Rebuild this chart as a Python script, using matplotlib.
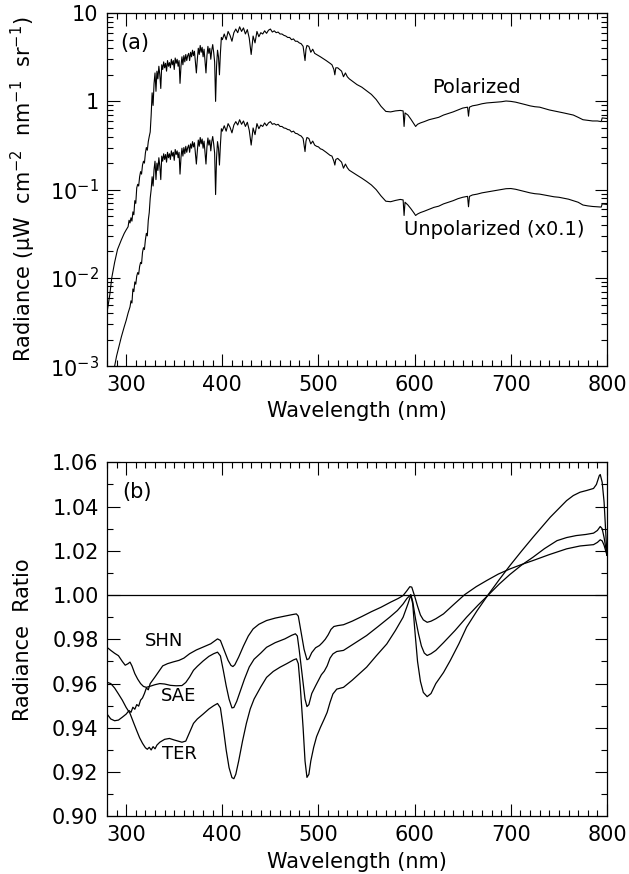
import matplotlib
matplotlib.use('Agg')
import matplotlib.pyplot as plt
import numpy as np
from matplotlib.ticker import FixedLocator, FixedFormatter, MultipleLocator, LogLocator, NullFormatter

# ---- panel (a): radiance spectra ----
wl_pol = [280, 283, 285, 288, 291, 295, 298, 300, 302, 303, 304, 305, 306, 307, 308, 309, 310,
          311, 312, 313, 314, 315, 316, 317, 318, 319, 320, 321, 322, 323, 324, 325, 326, 327,
          328, 329, 330, 331, 332, 333, 334, 335, 336, 337, 338, 339, 340, 341, 342, 343, 344,
          345, 346, 347, 348, 349, 350, 351, 352, 353, 354, 355, 356, 357, 358, 359, 360, 361,
          362, 363, 364, 365, 366, 367, 368, 369, 370, 371, 372, 373, 374, 375, 376, 377, 378,
          379, 380, 381, 382, 383, 384, 385, 386, 387, 388, 389, 390, 391, 392, 393, 394, 395,
          396, 397, 398, 399, 400, 402, 404, 406, 408, 410, 412, 414, 416, 418, 420, 422, 424,
          426, 428, 430, 432, 434, 436, 438, 440, 442, 444, 446, 448, 450, 452, 454, 456, 458,
          460, 462, 464, 466, 468, 470, 472, 474, 476, 478, 480, 482, 484, 486, 487, 488, 490,
          492, 494, 496, 498, 500, 502, 504, 506, 508, 510, 512, 514, 516, 517, 518, 520, 522,
          524, 526, 528, 530, 532, 535, 540, 545, 550, 555, 560, 565, 570, 575, 580, 585, 588,
          589, 590, 593, 596, 599, 601, 603, 606, 610, 615, 620, 625, 630, 635, 640, 645, 650,
          655, 656, 657, 660, 665, 670, 675, 680, 685, 690, 695, 700, 705, 710, 715, 720, 725,
          730, 735, 740, 745, 750, 755, 760, 765, 770, 775, 780, 785, 790, 794, 795, 800]
rad_pol = [0.0040, 0.0065, 0.0100, 0.0150, 0.0210, 0.0270, 0.0320, 0.0350, 0.0380, 0.0450,
           0.0420, 0.0480, 0.0440, 0.0560, 0.0520, 0.0750, 0.0700, 0.1050, 0.1150, 0.1100,
           0.1400, 0.1600, 0.1500, 0.1900, 0.2100, 0.2000, 0.2600, 0.3000, 0.2800, 0.3500,
           0.4000, 0.4500, 0.7000, 1.2500, 0.9000, 1.6000, 2.1000, 1.3000, 2.2000, 1.8000,
           2.5000, 2.0000, 1.4000, 2.6000, 2.3000, 2.8000, 2.4000, 2.7000, 2.2000, 2.9000,
           2.5000, 2.7500, 2.4000, 3.0000, 2.6000, 2.9000, 2.3000, 3.1000, 2.7000, 3.0000,
           2.5000, 2.9000, 1.6000, 2.5000, 3.2000, 2.6000, 3.3000, 2.8000, 3.4000, 2.9000,
           3.3000, 3.5000, 2.9000, 3.6000, 3.2000, 3.8000, 3.3000, 3.7000, 2.8000, 2.1000,
           3.0000, 4.0000, 3.4000, 4.3000, 3.6000, 4.1000, 3.2000, 3.9000, 2.9000, 2.1000,
           3.3000, 4.2000, 3.5000, 4.0000, 3.0000, 3.8000, 4.4000, 3.6000, 2.8000, 1.0000,
           2.5000, 3.8000, 3.2000, 2.0000, 3.5000, 5.3000, 5.0000, 5.8000, 5.0000, 6.2000,
           5.6000, 4.8000, 6.0000, 6.6000, 6.0000, 7.0000, 6.2000, 6.8000, 5.8000, 6.5000,
           5.2000, 3.4000, 5.5000, 4.6000, 6.2000, 5.4000, 6.0000, 5.8000, 6.3000, 5.9000,
           6.4000, 6.6000, 6.1000, 6.3000, 6.0000, 6.1000, 5.8000, 5.8000, 5.6000, 5.5000,
           5.3000, 5.3000, 5.0000, 5.1000, 4.8000, 4.8000, 4.6000, 4.5000, 4.2000, 2.9000,
           3.9000, 4.3000, 4.2000, 3.6000, 3.9000, 3.5000, 3.4000, 3.3000, 3.2000, 3.1000,
           3.0000, 2.9000, 2.8000, 2.7000, 2.6000, 2.3000, 2.0000, 2.4000, 2.4000, 2.3000,
           2.2000, 1.9000, 2.1000, 1.9000, 1.8000, 1.7000, 1.5500, 1.4500, 1.3200, 1.2000,
           1.0500, 0.8800, 0.7700, 0.7600, 0.7800, 0.7900, 0.7800, 0.5200, 0.7400, 0.7000,
           0.6300, 0.5600, 0.5200, 0.5500, 0.5700, 0.5900, 0.6200, 0.6400, 0.6600, 0.7000,
           0.7300, 0.7600, 0.8000, 0.8400, 0.8600, 0.6800, 0.8600, 0.8900, 0.9100, 0.9400,
           0.9600, 0.9700, 0.9800, 0.9900, 1.0100, 1.0000, 0.9800, 0.9500, 0.9200, 0.8900,
           0.8700, 0.8600, 0.8300, 0.8000, 0.7800, 0.7600, 0.7400, 0.7200, 0.7000, 0.6600,
           0.6200, 0.6100, 0.6000, 0.6000, 0.5900, 0.6500, 0.6400]

wl_unp = [288, 290, 293, 295, 298, 300, 302, 304, 305, 306, 307, 308, 309, 310, 311, 312, 313,
          314, 315, 316, 317, 318, 319, 320, 321, 322, 323, 324, 325, 326, 327, 328, 329, 330,
          331, 332, 333, 334, 335, 336, 337, 338, 339, 340, 341, 342, 343, 344, 345, 346, 347,
          348, 349, 350, 351, 352, 353, 354, 355, 356, 357, 358, 359, 360, 361, 362, 363, 364,
          365, 366, 367, 368, 369, 370, 371, 372, 373, 374, 375, 376, 377, 378, 379, 380, 381,
          382, 383, 384, 385, 386, 387, 388, 389, 390, 391, 392, 393, 394, 395, 396, 397, 398,
          399, 400, 402, 404, 406, 408, 410, 412, 414, 416, 418, 420, 422, 424, 426, 428, 430,
          432, 434, 436, 438, 440, 442, 444, 446, 448, 450, 452, 454, 456, 458, 460, 462, 464,
          466, 468, 470, 472, 474, 476, 478, 480, 482, 484, 486, 487, 488, 490, 492, 494, 496,
          498, 500, 502, 504, 506, 508, 510, 512, 514, 516, 517, 518, 520, 522, 524, 526, 528,
          530, 532, 535, 540, 545, 550, 555, 560, 565, 570, 575, 580, 585, 588, 589, 590, 593,
          596, 599, 601, 603, 606, 610, 615, 620, 625, 630, 635, 640, 645, 650, 655, 656, 657,
          660, 665, 670, 675, 680, 685, 690, 695, 700, 705, 710, 715, 720, 725, 730, 735, 740,
          745, 750, 755, 760, 765, 770, 775, 780, 785, 790, 794, 795, 800]
rad_unp = [0.00100, 0.00130, 0.00175, 0.00215, 0.00280, 0.00330, 0.00400, 0.00470, 0.00550,
           0.00520, 0.00750, 0.00700, 0.00900, 0.00850, 0.01050, 0.01150, 0.01100, 0.01350,
           0.01500, 0.01450, 0.01950, 0.02200, 0.02100, 0.02700, 0.03200, 0.03000, 0.04500,
           0.05500, 0.08000, 0.10000, 0.14000, 0.11000, 0.17000, 0.21000, 0.13000, 0.20000,
           0.16500, 0.23000, 0.18500, 0.13000, 0.24000, 0.21000, 0.25500, 0.22000, 0.25000,
           0.20500, 0.26500, 0.23000, 0.25500, 0.22000, 0.27500, 0.24000, 0.26500, 0.21500,
           0.28500, 0.25000, 0.27500, 0.23000, 0.26500, 0.15000, 0.23000, 0.29500, 0.24000,
           0.30000, 0.25500, 0.31000, 0.26500, 0.30000, 0.32000, 0.26500, 0.33000, 0.29500,
           0.35000, 0.30500, 0.34000, 0.26000, 0.19500, 0.27500, 0.36500, 0.31000, 0.39000,
           0.33000, 0.37500, 0.29500, 0.35500, 0.26500, 0.19500, 0.30500, 0.38500, 0.32000,
           0.36500, 0.27500, 0.35000, 0.40000, 0.33000, 0.26000, 0.08800, 0.23000, 0.35000,
           0.29500, 0.19000, 0.32000, 0.49000, 0.46000, 0.53000, 0.46000, 0.56000, 0.51000,
           0.44000, 0.54000, 0.59000, 0.54000, 0.62000, 0.55000, 0.60000, 0.52000, 0.58000,
           0.47000, 0.32000, 0.50000, 0.42000, 0.56000, 0.49000, 0.54000, 0.52000, 0.57000,
           0.53000, 0.57000, 0.59000, 0.55000, 0.56000, 0.54000, 0.55000, 0.52000, 0.52000,
           0.50000, 0.49500, 0.48000, 0.47500, 0.45000, 0.46000, 0.43500, 0.43000, 0.41500,
           0.40500, 0.38000, 0.27000, 0.35500, 0.39000, 0.38000, 0.33000, 0.35500, 0.32000,
           0.31000, 0.30500, 0.29000, 0.28500, 0.27500, 0.26500, 0.25500, 0.24500, 0.24000,
           0.21000, 0.19000, 0.22000, 0.22600, 0.21500, 0.20500, 0.17500, 0.19500, 0.17700,
           0.16600, 0.15800, 0.14600, 0.13500, 0.12400, 0.11300, 0.10000, 0.08500, 0.07400,
           0.07300, 0.07550, 0.07750, 0.07650, 0.05100, 0.07200, 0.06700, 0.06100, 0.05500,
           0.05100, 0.05300, 0.05500, 0.05700, 0.06000, 0.06300, 0.06500, 0.06900, 0.07200,
           0.07500, 0.07900, 0.08200, 0.08400, 0.06400, 0.08400, 0.08700, 0.08900, 0.09200,
           0.09400, 0.09600, 0.09800, 0.10000, 0.10250, 0.10300, 0.10100, 0.09800, 0.09500,
           0.09200, 0.09000, 0.08900, 0.08700, 0.08500, 0.08300, 0.08200, 0.08000, 0.07800,
           0.07500, 0.07200, 0.06700, 0.06550, 0.06450, 0.06400, 0.06350, 0.06900, 0.06800]

# ---- panel (b): radiance ratios ----
wl_shn = [280, 284, 288, 292, 296, 300, 303, 305, 307, 309, 311, 313, 315, 317, 319, 321, 323,
          325, 327, 330, 334, 338, 343, 349, 355, 360, 366, 373, 380, 388, 395, 398, 402, 406,
          409, 411, 413, 417, 422, 427, 432, 438, 446, 455, 465, 473, 477, 479, 482, 485, 488,
          490, 493, 497, 501, 504, 507, 510, 513, 516, 520, 526, 535, 545, 555, 565, 575, 583,
          588, 592, 595, 597, 600, 603, 606, 609, 613, 617, 622, 630, 640, 652, 664, 675, 687,
          699, 711, 723, 740, 758, 772, 786, 790, 793, 795, 797, 800]
ratio_shn = [0.9463, 0.9440, 0.9432, 0.9435, 0.9448, 0.9462, 0.9478, 0.9470, 0.9493, 0.9484,
             0.9505, 0.9498, 0.9525, 0.9535, 0.9555, 0.9580, 0.9572, 0.9600, 0.9612, 0.9630,
             0.9655, 0.9680, 0.9690, 0.9698, 0.9705, 0.9715, 0.9735, 0.9752, 0.9765, 0.9780,
             0.9802, 0.9795, 0.9750, 0.9705, 0.9682, 0.9677, 0.9685, 0.9720, 0.9770, 0.9815,
             0.9847, 0.9868, 0.9885, 0.9896, 0.9905, 0.9912, 0.9915, 0.9905, 0.9830, 0.9755,
             0.9708, 0.9712, 0.9740, 0.9762, 0.9772, 0.9785, 0.9800, 0.9820, 0.9845, 0.9858,
             0.9862, 0.9866, 0.9882, 0.9903, 0.9925, 0.9945, 0.9968, 0.9985, 0.9998, 1.0020,
             1.0038, 1.0036, 0.9995, 0.9950, 0.9910, 0.9888, 0.9877, 0.9882, 0.9893, 0.9915,
             0.9955, 1.0002, 1.0038, 1.0066, 1.0095, 1.0118, 1.0138, 1.0156, 1.0183, 1.0209,
             1.0222, 1.0228, 1.0238, 1.0250, 1.0245, 1.0225, 1.0180]

wl_sae = [280, 284, 288, 292, 296, 299, 302, 304, 306, 309, 312, 315, 318, 321, 325, 330, 335,
          340, 346, 352, 358, 362, 366, 370, 374, 380, 386, 391, 395, 398, 401, 404, 407, 410,
          412, 415, 419, 423, 428, 433, 440, 446, 455, 465, 472, 476, 478, 480, 483, 486, 488,
          490, 493, 497, 500, 503, 506, 509, 512, 515, 519, 526, 535, 550, 562, 574, 582, 588,
          592, 596, 598, 601, 604, 607, 610, 613, 617, 622, 630, 642, 654, 666, 677, 688, 699,
          711, 723, 735, 748, 758, 768, 778, 786, 790, 793, 795, 797, 800]
ratio_sae = [0.9764, 0.9750, 0.9737, 0.9726, 0.9700, 0.9683, 0.9690, 0.9697, 0.9680, 0.9645,
             0.9620, 0.9600, 0.9587, 0.9583, 0.9588, 0.9595, 0.9600, 0.9598, 0.9592, 0.9590,
             0.9591, 0.9605, 0.9630, 0.9660, 0.9678, 0.9702, 0.9723, 0.9735, 0.9742, 0.9725,
             0.9660, 0.9590, 0.9530, 0.9490, 0.9492, 0.9520, 0.9570, 0.9620, 0.9675, 0.9710,
             0.9738, 0.9764, 0.9785, 0.9802, 0.9818, 0.9825, 0.9815, 0.9750, 0.9640, 0.9530,
             0.9496, 0.9505, 0.9555, 0.9590, 0.9615, 0.9640, 0.9656, 0.9680, 0.9715, 0.9734,
             0.9745, 0.9750, 0.9775, 0.9817, 0.9858, 0.9900, 0.9930, 0.9960, 0.9985, 1.0002,
             0.9970, 0.9890, 0.9825, 0.9770, 0.9738, 0.9727, 0.9735, 0.9750, 0.9785, 0.9840,
             0.9900, 0.9955, 1.0002, 1.0050, 1.0093, 1.0135, 1.0171, 1.0210, 1.0246, 1.0260,
             1.0269, 1.0274, 1.0280, 1.0292, 1.0310, 1.0300, 1.0260, 1.0180]

wl_ter = [280, 284, 288, 292, 296, 300, 304, 308, 311, 314, 317, 320, 322, 324, 326, 328, 330,
          332, 335, 340, 345, 350, 354, 358, 362, 366, 370, 374, 380, 386, 391, 395, 398, 401,
          404, 407, 410, 412, 414, 417, 421, 425, 429, 433, 440, 446, 453, 460, 467, 474, 477,
          479, 481, 484, 486, 488, 490, 492, 495, 498, 502, 506, 509, 512, 515, 519, 526, 535,
          550, 560, 571, 580, 588, 593, 596, 598, 600, 603, 606, 609, 613, 617, 622, 630, 637,
          646, 654, 665, 677, 688, 699, 711, 723, 741, 758, 765, 772, 779, 786, 789, 792, 793,
          795, 797, 800]
ratio_ter = [0.9606, 0.9600, 0.9580, 0.9553, 0.9525, 0.9492, 0.9465, 0.9420, 0.9387, 0.9355,
             0.9330, 0.9310, 0.9303, 0.9312, 0.9300, 0.9315, 0.9305, 0.9322, 0.9335, 0.9348,
             0.9352, 0.9345, 0.9340, 0.9335, 0.9340, 0.9380, 0.9420, 0.9440, 0.9462, 0.9485,
             0.9500, 0.9510, 0.9490, 0.9400, 0.9300, 0.9220, 0.9175, 0.9170, 0.9190, 0.9250,
             0.9340, 0.9420, 0.9485, 0.9530, 0.9585, 0.9628, 0.9655, 0.9674, 0.9690, 0.9707,
             0.9712, 0.9690, 0.9590, 0.9400, 0.9250, 0.9176, 0.9190, 0.9250, 0.9312, 0.9360,
             0.9402, 0.9440, 0.9470, 0.9515, 0.9553, 0.9575, 0.9583, 0.9615, 0.9674, 0.9725,
             0.9779, 0.9840, 0.9900, 0.9960, 1.0000, 0.9960, 0.9850, 0.9700, 0.9610, 0.9560,
             0.9541, 0.9555, 0.9600, 0.9650, 0.9704, 0.9780, 0.9855, 0.9930, 1.0005, 1.0070,
             1.0133, 1.0198, 1.0261, 1.0352, 1.0427, 1.0450, 1.0465, 1.0473, 1.0482, 1.0500,
             1.0540, 1.0545, 1.0510, 1.0420, 1.0180]

plt.rcParams['font.family'] = ['DejaVu Sans']
plt.rcParams['mathtext.default'] = 'regular'
fs = 15

fig = plt.figure(figsize=(6.29, 8.74), dpi=100)
ax1 = fig.add_axes([0.170, 0.581, 0.795, 0.404])
ax2 = fig.add_axes([0.170, 0.066, 0.795, 0.405])

for ax in (ax1, ax2):
    ax.tick_params(which='both', direction='in', top=True, right=True, labelsize=fs, width=0.8)
    ax.tick_params(which='major', length=9, pad=6)
    ax.tick_params(which='minor', length=4.5)
    ax.set_xlim(280, 800)
    ax.xaxis.set_major_locator(MultipleLocator(100))
    ax.xaxis.set_minor_locator(MultipleLocator(10))
    ax.set_xlabel('Wavelength (nm)', fontsize=fs, labelpad=5)
    for s in ax.spines.values():
        s.set_linewidth(0.9)

# (a)
ax1.plot(wl_pol, rad_pol, color='black', lw=0.8)
ax1.plot(wl_unp, rad_unp, color='black', lw=0.8)
ax1.set_yscale('log')
ax1.set_ylim(1e-3, 10)
ax1.yaxis.set_major_locator(FixedLocator([1e-3, 1e-2, 1e-1, 1, 10]))
ax1.yaxis.set_major_formatter(FixedFormatter(['$10^{-3}$', '$10^{-2}$', '$10^{-1}$', '1', '10']))
ax1.yaxis.set_minor_locator(LogLocator(base=10, subs=np.arange(2, 10)))
ax1.yaxis.set_minor_formatter(NullFormatter())
ax1.set_ylabel('Radiance ($\\mu$W  cm$^{-2}$  nm$^{-1}$  sr$^{-1}$)', fontsize=fs, labelpad=8)
ax1.text(309, 4.6, '(a)', fontsize=fs, ha='center', va='center')
ax1.text(664, 1.44, 'Polarized', fontsize=14, ha='center', va='center')
ax1.text(683, 0.035, 'Unpolarized (x0.1)', fontsize=14, ha='center', va='center')

# (b)
ax2.plot(wl_shn, ratio_shn, color='black', lw=0.9)
ax2.plot(wl_sae, ratio_sae, color='black', lw=0.9)
ax2.plot(wl_ter, ratio_ter, color='black', lw=0.9)
ax2.axhline(1.0, color='black', lw=0.9)
ax2.set_ylim(0.90, 1.06)
ax2.yaxis.set_major_locator(MultipleLocator(0.02))
ax2.yaxis.set_minor_locator(MultipleLocator(0.01))
ax2.yaxis.set_major_formatter(matplotlib.ticker.FormatStrFormatter('%.2f'))
ax2.set_ylabel('Radiance  Ratio', fontsize=fs, labelpad=14)
ax2.text(311.5, 1.0465, '(b)', fontsize=fs, ha='center', va='center')
ax2.text(339.5, 0.9794, 'SHN', fontsize=13, ha='center', va='center')
ax2.text(354, 0.9546, 'SAE', fontsize=13, ha='center', va='center')
ax2.text(355, 0.9282, 'TER', fontsize=13, ha='center', va='center')

fig.savefig('out.png', dpi=100)
